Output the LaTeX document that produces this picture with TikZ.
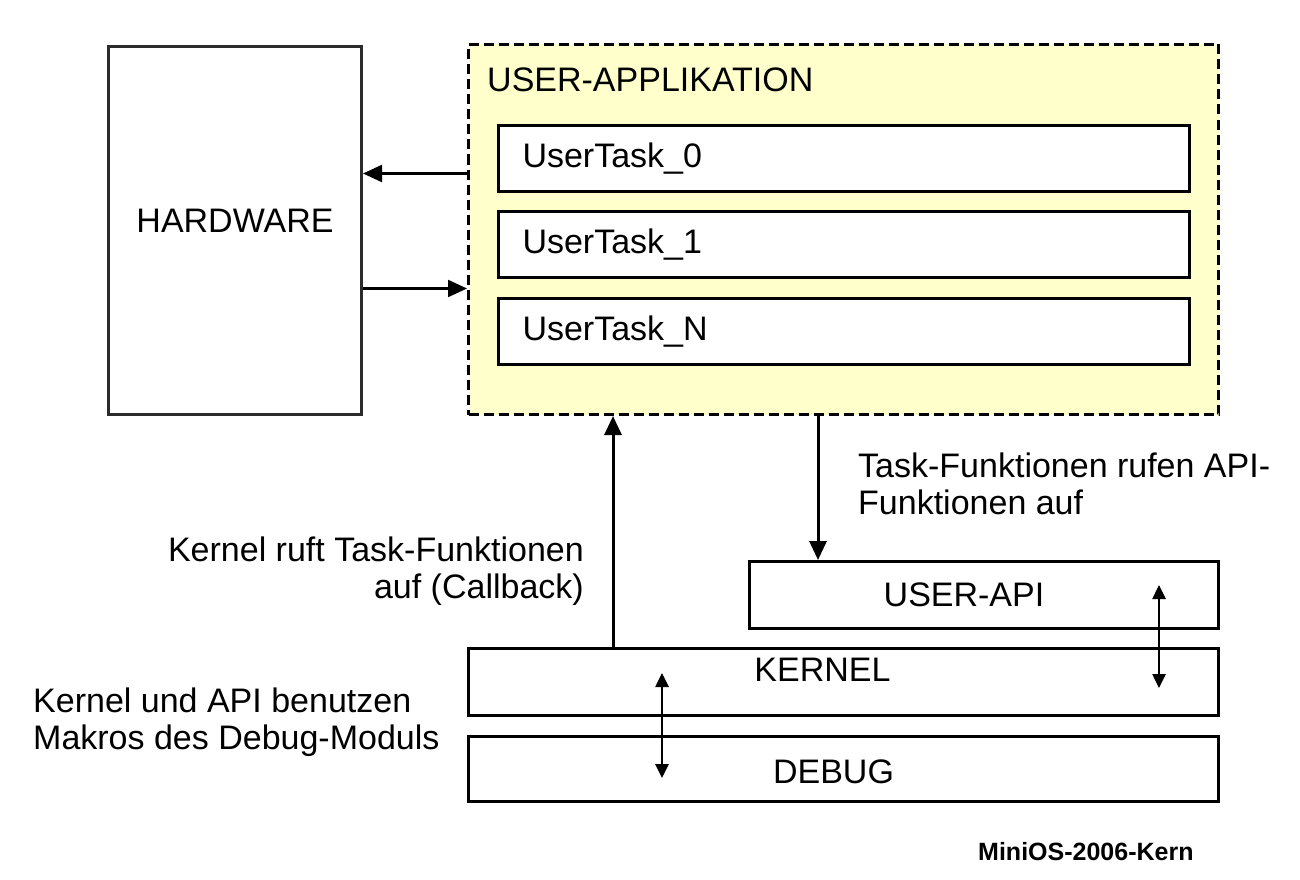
\documentclass[tikz,border=0pt]{standalone}
\usepackage{fontspec}
\setmainfont{Liberation Sans}
\usetikzlibrary{arrows.meta, positioning, calc}
\definecolor{cyellow}{HTML}{FFFFCC}
\definecolor{cdark}{HTML}{2B2B2B}
\newcommand{\diafont}{\fontsize{34pt}{37pt}\selectfont}
\tikzset{
  every picture/.style={x=1pt, y=-1pt},
  box/.style={draw=black, fill=white, line width=3pt, inner sep=0pt, anchor=north west, font=\diafont},
  taskbox/.style={box, minimum width=691pt, minimum height=66pt, text width=643pt, inner xsep=24pt, align=left},
  appbox/.style={draw=black, fill=cyellow, line width=3pt, dash pattern=on 10pt off 5pt, anchor=north west, inner sep=0pt},
  arrow/.style={-{Triangle[length=19pt, width=17pt]}, line width=3pt},
  thinarrow/.style={arrow, line width=2.2pt},
  twoway/.style={{Triangle[length=14pt, width=13pt]}-{Triangle[length=14pt, width=13pt]}, line width=2.6pt},
  note/.style={font=\diafont, inner sep=0pt},
}

\begin{document}
\begin{tikzpicture}
  \useasboundingbox (0,0) rectangle (1300,880);

  % left side
  \node[box, draw=cdark, minimum width=253pt, minimum height=368pt] (hardware) at (107,45) {};
  \node[font=\diafont, inner sep=0pt] (hwtext) at ([yshift=10pt]hardware.center) {HARDWARE};

  % user application with its tasks
  \node[appbox, minimum width=750pt, minimum height=370pt] (app) at (467,43) {};
  \node[note, anchor=west] (apptitle) at (487,80) {USER-APPLIKATION};
  \foreach \i/\y/\lab in {0/124/UserTask\_0, 1/210/UserTask\_1, 2/297/UserTask\_N}
    \node[taskbox] (task\i) at (497,\y) {\lab};

  % lower layers
  \node[box, minimum width=469pt, minimum height=67pt] (userapi) at (748,560) {};
  \node[font=\diafont, inner sep=0pt] (apitextin) at ([xshift=-20pt]userapi.center) {USER-API};
  \node[box, minimum width=750pt, minimum height=67pt] (kernel) at (467,647) {};
  \node[font=\diafont, inner sep=0pt] (kerneltext) at ([xshift=-21pt, yshift=12pt]kernel.center) {KERNEL};
  \node[box, minimum width=750pt, minimum height=65pt] (debug) at (467,735) {};
  \node[font=\diafont, inner sep=0pt] (debugtext) at ([xshift=-10pt, yshift=-3pt]debug.center) {DEBUG};

  % connectors
  \coordinate (hwout) at ($(hardware.east)+(0,-57)$);
  \coordinate (hwin) at ($(hardware.east)+(0,58)$);
  \draw[thinarrow] (hwout -| app.west) -- (hwout);
  \draw[thinarrow] (hwin) -- (hwin -| app.west);

  \coordinate (callback) at ($(kernel.north west)+(146,0)$);
  \draw[arrow] (callback) -- (callback |- app.south);
  \coordinate (apicall) at ($(userapi.north west)+(70,0)$);
  \draw[arrow] (apicall |- app.south) -- (apicall);

  \coordinate (apitop) at (1159,585);
  \coordinate (apibot) at (1159,688);
  \draw[twoway] (apitop) -- (apibot);
  \coordinate (dbgtop) at (662,673);
  \coordinate (dbgbot) at (662,778);
  \draw[twoway] (dbgtop) -- (dbgbot);

  % labels
  \node[note, anchor=east, align=right] (cbtext) at (584,571) {Kernel ruft Task-Funktionen\\auf (Callback)};
  \node[note, anchor=west, align=left] (apitext) at (858,484) {Task-Funktionen rufen API-\\Funktionen auf};
  \node[note, anchor=west, align=left] (dbgnote) at (33,722) {Kernel und API benutzen\\Makros des Debug-Moduls};
  \node[inner sep=0pt, anchor=west, font=\fontsize{25pt}{28pt}\selectfont\bfseries] (caption) at (978,852) {MiniOS-2006-Kern};
\end{tikzpicture}
\end{document}
